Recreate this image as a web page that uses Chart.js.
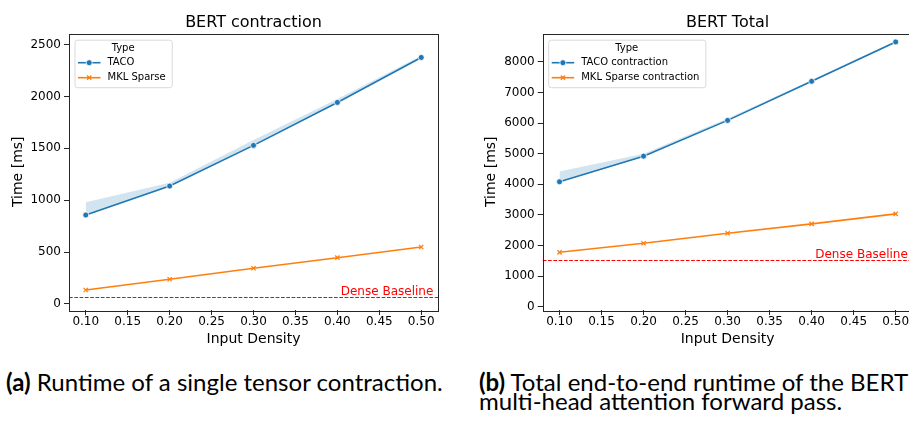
<!DOCTYPE html>
<html>
<head>
<meta charset="utf-8">
<script src="https://cdn.jsdelivr.net/npm/chart.js@4.4.0/dist/chart.umd.min.js"></script>
<style>
  html, body { margin:0; padding:0; background:#fff; width:909px; height:422px; overflow:hidden; position:relative; }
  canvas { position:absolute; top:0; }
  #c1 { left:0; }
  #c2 { left:455px; }
  .cap { position:absolute; white-space:nowrap; color:#000; font-family: Lato, "Open Sans", sans-serif; font-size:20px; line-height:19px; }
  .cap b { font-weight:700; }
  .bl { display:inline-block; width:0; height:0; vertical-align:baseline; }
</style>
</head>
<body>
<canvas id="c1" width="455" height="350"></canvas>
<canvas id="c2" width="470" height="350"></canvas>
<div class="cap" id="capA" style="left:6px;top:374px;"><span class="bl"></span><b>(a)</b> Runtime of a single tensor contraction.</div>
<div class="cap" id="capB" style="left:479px;top:374px;"><span class="bl"></span><b>(b)</b> Total end-to-end runtime of the BERT<br>multi-head attention forward pass.</div>
<script>
// ---------- data ----------
const densities = [0.10, 0.20, 0.30, 0.40, 0.50];
const xTicks = [0.10, 0.15, 0.20, 0.25, 0.30, 0.35, 0.40, 0.45, 0.50];
const xTitle = 'Input Density';
const yTitle = 'Time [ms]';
const legendTitle = 'Type';
const denseLabel = 'Dense Baseline';

// (a) BERT contraction
const contractionTitle = 'BERT contraction';
const contractionTacoLabel = 'TACO';
const contractionMklLabel = 'MKL Sparse';
const contractionTaco = [857, 1136, 1528, 1942, 2375];
const contractionTacoUpper = [979, 1168, 1579, 1976, 2392];
const contractionTacoLower = [850, 1130, 1522, 1936, 2368];
const contractionMkl = [135, 238, 344, 446, 549];
const contractionDense = 63;
const contractionYTicks = [0, 500, 1000, 1500, 2000, 2500];

// (b) BERT Total
const totalTitle = 'BERT Total';
const totalTacoLabel = 'TACO contraction';
const totalMklLabel = 'MKL Sparse contraction';
const totalTaco = [4083, 4921, 6090, 7367, 8654];
const totalTacoUpper = [4420, 5000, 6150, 7410, 8690];
const totalTacoLower = [4065, 4905, 6075, 7350, 8635];
const totalMkl = [1778, 2073, 2400, 2708, 3035];
const totalDense = 1529;
const totalYTicks = [0, 1000, 2000, 3000, 4000, 5000, 6000, 7000, 8000];

// ---------- style ----------
const BLUE = '#1f77b4', ORANGE = '#ff7f0e', BAND = 'rgba(31,119,180,0.2)';
const FONT = '"DejaVu Sans", sans-serif';
Chart.defaults.font.family = FONT;
Chart.defaults.color = '#000';

const pts = (arr) => densities.map((d, i) => ({ x: d, y: arr[i] }));

const framePlugin = {
  id: 'frame',
  afterDraw(chart) {
    const { ctx, chartArea: a } = chart;
    ctx.save();
    ctx.strokeStyle = '#262626';
    ctx.lineWidth = 1;
    ctx.strokeRect(Math.round(a.left) + 0.5, Math.round(a.top) + 0.5, Math.round(a.right - a.left), Math.round(a.bottom - a.top));
    ctx.restore();
  }
};

const densePlugin = {
  id: 'denseLine',
  afterDatasetsDraw(chart, args, opts) {
    const { ctx, chartArea: a } = chart;
    const y = Math.round(chart.scales.y.getPixelForValue(opts.value)) + 0.5;
    ctx.save();
    ctx.strokeStyle = '#ff0000';
    ctx.lineWidth = 1;
    ctx.setLineDash([3.7, 1.6]);
    ctx.beginPath();
    ctx.moveTo(a.left, y);
    ctx.lineTo(a.right, y);
    ctx.stroke();
    ctx.setLineDash([]);
    ctx.fillStyle = '#ff0000';
    ctx.font = '12px ' + FONT;
    ctx.textAlign = 'right';
    ctx.textBaseline = 'alphabetic';
    ctx.fillText(denseLabel, a.right - 4.7, y - 2.5);
    ctx.restore();
  }
};

const legendPlugin = {
  id: 'typeLegend',
  afterDraw(chart) {
    const { ctx, chartArea: a } = chart;
    const items = chart.data.datasets.filter(d => d.inLegend);
    ctx.save();
    ctx.font = '10px ' + FONT;
    const tw = Math.max(...items.map(d => ctx.measureText(d.label).width));
    const L = a.left + 5.5, T = a.top + 6.2;
    const textX = L + 33;
    const W = (textX - L) + tw + 6, H = 47.5;
    ctx.beginPath();
    ctx.roundRect(L + 0.5, T + 0.5, W, H, 2.5);
    ctx.fillStyle = 'rgba(255,255,255,0.85)';
    ctx.fill();
    ctx.strokeStyle = '#d9d9d9';
    ctx.lineWidth = 1;
    ctx.stroke();
    ctx.fillStyle = '#000';
    ctx.textBaseline = 'middle';
    ctx.textAlign = 'center';
    ctx.fillText(legendTitle, L + W / 2, T + 8.5);
    ctx.textAlign = 'left';
    items.forEach((d, i) => {
      const y = T + 23 + i * 15;
      ctx.strokeStyle = d.borderColor;
      ctx.lineWidth = 1.6;
      ctx.beginPath();
      ctx.moveTo(L + 3.5, y);
      ctx.lineTo(L + 26, y);
      ctx.stroke();
      ctx.fillStyle = d.pointBackgroundColor;
      ctx.strokeStyle = d.pointBorderColor;
      ctx.lineWidth = d.pointBorderWidth;
      Chart.helpers.drawPoint(ctx, { pointStyle: d.pointStyle, radius: d.pointRadius, borderWidth: d.pointBorderWidth, rotation: 0 }, L + 14.7, y);
      ctx.fillStyle = '#000';
      ctx.fillText(d.label, textX, y);
    });
    ctx.restore();
  }
};

function makeChart(id, cfg) {
  return new Chart(document.getElementById(id), {
    type: 'line',
    data: {
      datasets: [
        { label: cfg.tacoLabel, inLegend: true, data: pts(cfg.taco), borderColor: BLUE, borderWidth: 1.6,
          pointStyle: 'circle', pointRadius: 3, pointBackgroundColor: BLUE, pointBorderColor: '#fff', pointBorderWidth: 0.8, fill: false, tension: 0 },
        { label: cfg.mklLabel, inLegend: true, data: pts(cfg.mkl), borderColor: ORANGE, borderWidth: 1.6,
          pointStyle: 'crossRot', pointRadius: 3, pointBackgroundColor: ORANGE, pointBorderColor: ORANGE, pointBorderWidth: 1.3, fill: false, tension: 0 },
        { label: 'upper', data: pts(cfg.upper), borderWidth: 0, pointRadius: 0, backgroundColor: BAND, fill: '+1', tension: 0 },
        { label: 'lower', data: pts(cfg.lower), borderWidth: 0, pointRadius: 0, fill: false, tension: 0 }
      ]
    },
    options: {
      responsive: false,
      animation: false,
      layout: { padding: { left: cfg.padLeft, right: cfg.padRight, top: 0, bottom: 0 } },
      plugins: {
        legend: { display: false },
        tooltip: { enabled: false },
        title: { display: true, text: cfg.title, fullSize: false, color: '#000',
                 font: { size: 16, weight: 'normal' }, padding: { top: 13.6, bottom: 0.7 } },
        denseLine: { value: cfg.dense }
      },
      scales: {
        x: {
          type: 'linear', min: 0.08, max: 0.52,
          afterBuildTicks: s => { s.ticks = xTicks.map(v => ({ value: v })); },
          afterFit: s => { s.height = 40; },
          ticks: { callback: v => Number(v).toFixed(2), font: { size: 12 }, color: '#000', padding: 0, maxRotation: 0, autoSkip: false },
          grid: { drawOnChartArea: false, drawTicks: true, tickLength: 5, color: '#262626' },
          border: { display: false },
          title: { display: true, text: xTitle, font: { size: 14 }, color: '#000', padding: { top: 0, bottom: 2.3 } }
        },
        y: {
          type: 'linear', min: cfg.ymin, max: cfg.ymax,
          afterBuildTicks: s => { s.ticks = cfg.yTicks.map(v => ({ value: v })); },
          afterFit: s => { s.width = cfg.yWidth; },
          ticks: { callback: v => String(v), font: { size: 12 }, color: '#000', padding: 3, autoSkip: false },
          grid: { drawOnChartArea: false, drawTicks: true, tickLength: 5, color: '#262626' },
          border: { display: false },
          title: { display: true, text: yTitle, font: { size: 14 }, color: '#000', padding: { top: cfg.yTitlePad, bottom: 0 } }
        }
      }
    },
    plugins: [framePlugin, densePlugin, legendPlugin]
  });
}

makeChart('c1', {
  title: contractionTitle, tacoLabel: contractionTacoLabel, mklLabel: contractionMklLabel,
  taco: contractionTaco, upper: contractionTacoUpper, lower: contractionTacoLower, mkl: contractionMkl,
  dense: contractionDense, yTicks: contractionYTicks, ymin: -58, ymax: 2606,
  padLeft: 0, padRight: 17, yWidth: 69, yTitlePad: 10
});
makeChart('c2', {
  title: totalTitle, tacoLabel: totalTacoLabel, mklLabel: totalMklLabel,
  taco: totalTaco, upper: totalTacoUpper, lower: totalTacoLower, mkl: totalMkl,
  dense: totalDense, yTicks: totalYTicks, ymin: -108, ymax: 8930,
  padLeft: 0, padRight: 12.5, yWidth: 87.7, yTitlePad: 28.3
});

// ---------- captions ----------
function placeCaptions() {
  const a = document.getElementById('capA');
  const b = document.getElementById('capB');
  const w = a.getBoundingClientRect().width;
  const fs = 20 * 437 / w;
  a.style.fontSize = fs + 'px';
  b.style.fontSize = fs + 'px';
  [a, b].forEach(el => {
    const bl = el.querySelector('.bl').getBoundingClientRect().top;
    const top = parseFloat(el.style.top);
    el.style.top = (top + (391 - bl)) + 'px';
  });
}
placeCaptions();
</script>
</body>
</html>
